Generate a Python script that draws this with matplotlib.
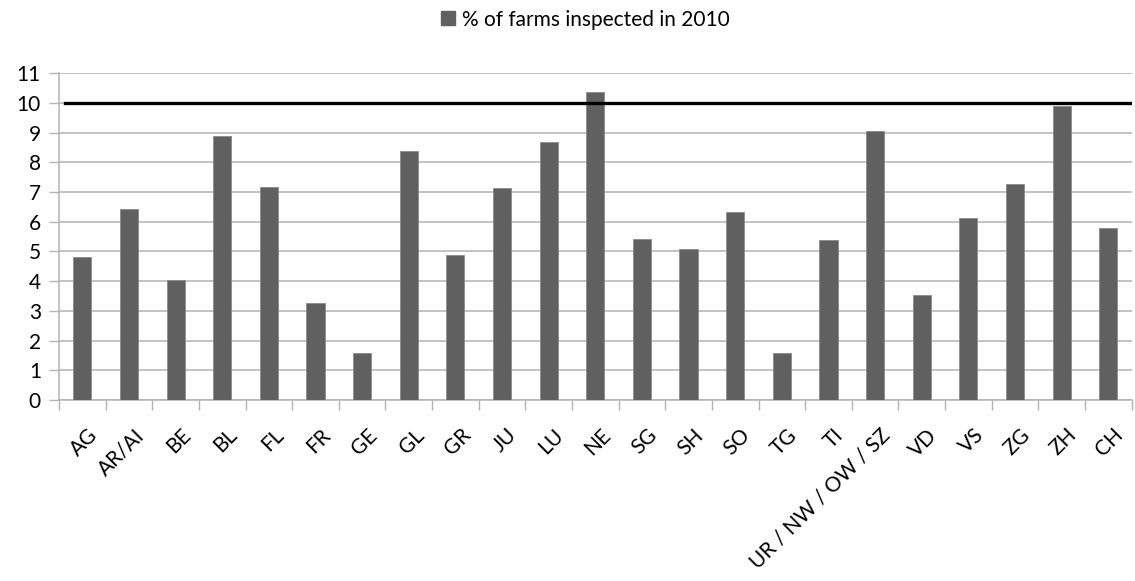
import numpy as np
import matplotlib.pyplot as plt
import matplotlib.transforms as mtransforms
from matplotlib.lines import Line2D

plt.rcParams['font.family'] = ['Lato', 'DejaVu Sans']

cantons = ['AG', 'AR/AI', 'BE', 'BL', 'FL', 'FR', 'GE', 'GL', 'GR', 'JU', 'LU', 'NE',
           'SG', 'SH', 'SO', 'TG', 'TI', 'UR / NW / OW / SZ', 'VD', 'VS', 'ZG', 'ZH', 'CH']
inspected = [4.80, 6.44, 4.03, 8.90, 7.18, 3.25, 1.57, 8.39, 4.89, 7.14, 8.70, 10.37,
             5.41, 5.07, 6.32, 1.57, 5.38, 9.05, 3.52, 6.11, 7.27, 9.90, 5.80]
target = 10

bar_color = '#606060'
grid_color = '#b3b3b3'

fig = plt.figure(figsize=(11.35, 5.81), dpi=100)
ax = fig.add_axes([0.052, 0.3115, 0.945, 0.5625])

x = np.arange(len(cantons))
ax.bar(x, inspected, width=0.39, color=bar_color, edgecolor='#8a8a8a', linewidth=0.6, zorder=3)
ax.axhline(target, xmin=0.006, xmax=1, color='black', linewidth=2.4, zorder=4)

ax.set_xlim(-0.5, len(cantons) - 0.5)
ax.set_ylim(0, 11)
ax.set_yticks(range(0, 12))
ax.yaxis.grid(True, color=grid_color, linewidth=1.1, zorder=0)
ax.set_axisbelow(True)

ax.set_xticks(x)
ax.set_xticklabels(cantons, rotation=45, ha='right', rotation_mode='anchor', fontsize=15)
ax.set_xticks(np.arange(-0.5, len(cantons)), minor=True)
ax.tick_params(axis='x', which='major', length=0, pad=18)
ax.tick_params(axis='x', which='minor', length=7, color=grid_color, width=1)
ax.tick_params(axis='y', length=7, color=grid_color, width=1, labelsize=15, pad=6)

# nudge the slanted labels a little to the right of the bar centres
shift = mtransforms.ScaledTranslation(5 / 100, 0, fig.dpi_scale_trans)
for lbl in ax.get_xticklabels():
    lbl.set_transform(lbl.get_transform() + shift)

for side in ['top', 'right']:
    ax.spines[side].set_visible(False)
for side in ['left', 'bottom']:
    ax.spines[side].set_color(grid_color)
    ax.spines[side].set_linewidth(1.1)

handle = Line2D([], [], marker='s', linestyle='none', color=bar_color, markersize=10)
fig.legend([handle], ['% of farms inspected in 2010'], loc='center', bbox_to_anchor=(0.515, 0.966),
           frameon=False, fontsize=15, handletextpad=0.3, handlelength=0.8)

fig.savefig('out.png', dpi=100)
